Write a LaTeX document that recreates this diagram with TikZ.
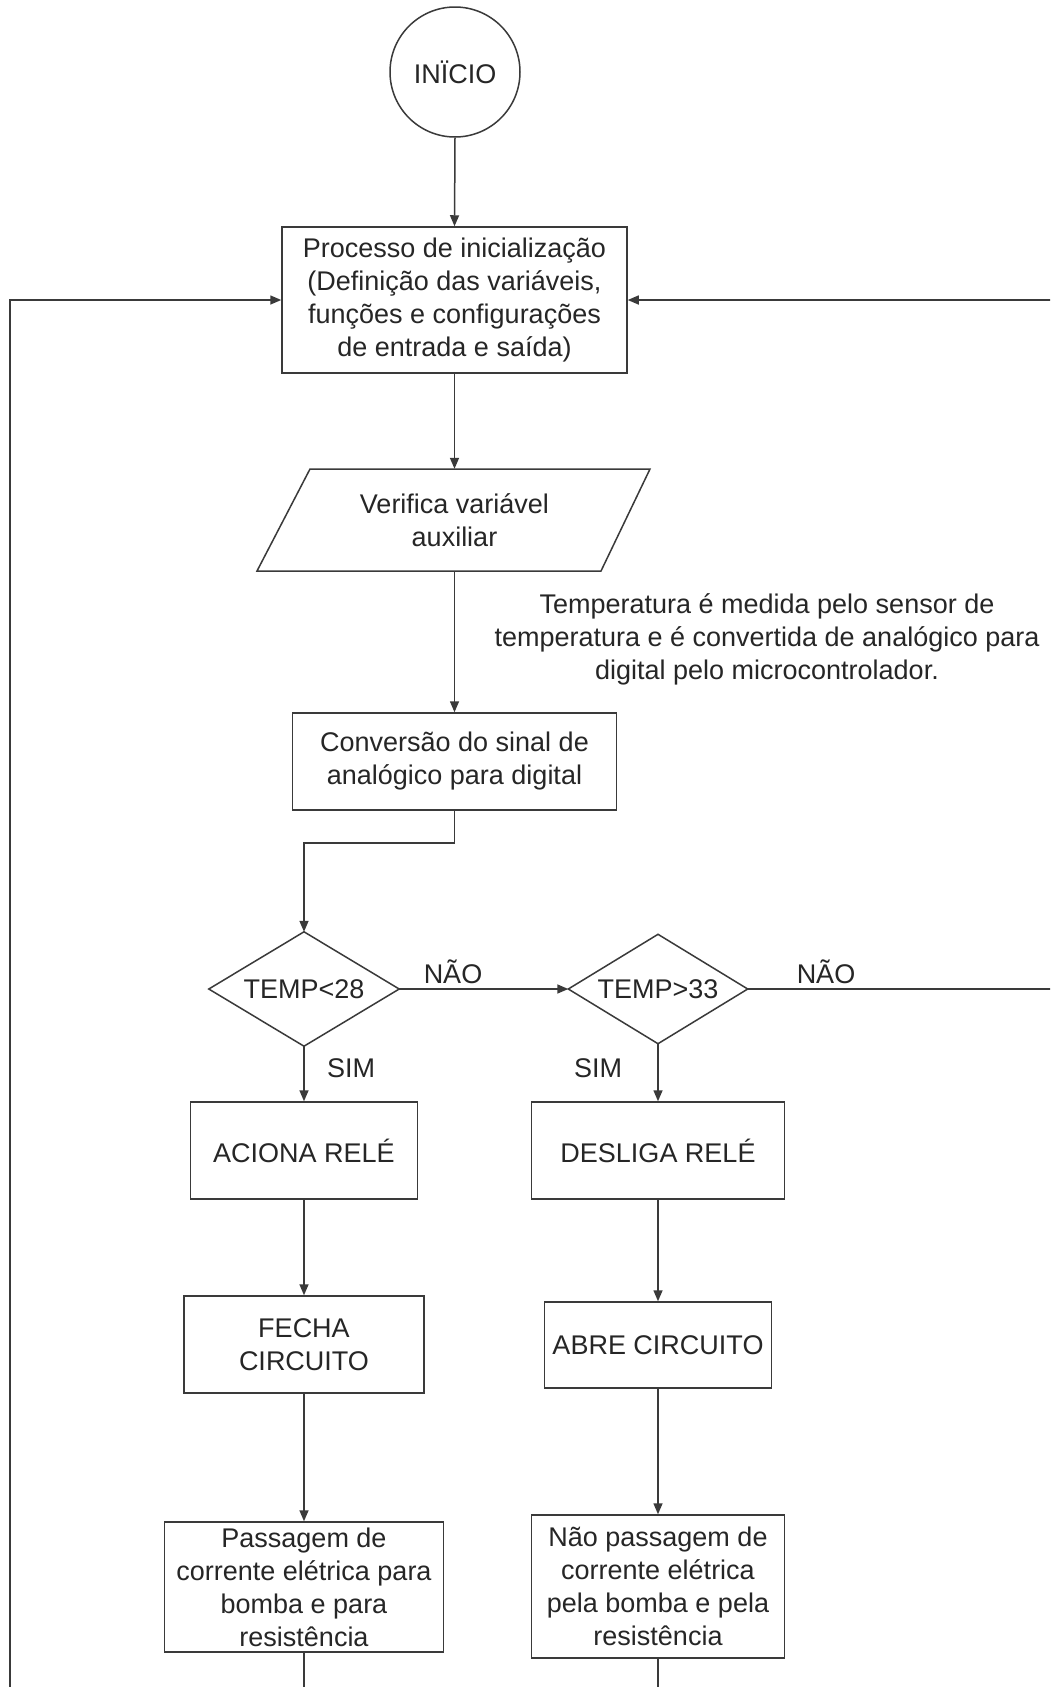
\documentclass[tikz,border=0pt]{standalone}
\usepackage{fontspec}
\setmainfont{Liberation Sans}
\usetikzlibrary{arrows.meta}
\definecolor{ln}{HTML}{3A3A3A}
\definecolor{txt}{HTML}{262626}
\begin{document}
\begin{tikzpicture}[x=1pt,y=-1pt,
  every node/.style={font=\fontsize{27}{33}\selectfont, text=txt, inner sep=0pt, align=center},
  box/.style={draw=ln, line width=1.5pt, rectangle},
  plain/.style={draw=ln, line width=1.5pt},
  conn/.style={draw=ln, line width=1.5pt, -{Triangle[length=11pt,width=9pt]}}]
\useasboundingbox (0,0) rectangle (1050,1687);
\clip (0,0) rectangle (1050,1687);
\fill[white] (0,0) rectangle (1050,1687);

% nodes
\node[circle, draw=ln, line width=1.5pt, minimum size=130pt] (inicio) at (455,72) {INÏCIO};
\node[box, minimum width=345pt, minimum height=146pt] (proc) at (454.5,300)
  {Processo de inicialização\\(Definição das variáveis,\\funções e configurações\\de entrada e saída)};
\node[minimum width=290pt, minimum height=102pt] (verif) at (454.5,520) {Verifica variável\\auxiliar};
\draw[plain] (310,469) -- (650,469) -- (601,571) -- (257,571) -- cycle;
\node (note) at (767,639) {Temperatura é medida pelo sensor de\\temperatura e é convertida de analógico para\\digital pelo microcontrolador.};
\node[box, minimum width=324pt, minimum height=97pt] (conv) at (454.5,761.5) {Conversão do sinal de\\analógico para digital};

\node[minimum width=190pt, minimum height=114pt] (d1) at (304,989) {TEMP<28};
\draw[plain] (d1.north) -- (d1.east) -- (d1.south) -- (d1.west) -- cycle;
\node[minimum width=179pt, minimum height=109pt] (d2) at (658,989) {TEMP>33};
\draw[plain] (d2.north) -- (d2.east) -- (d2.south) -- (d2.west) -- cycle;

\node[box, minimum width=227pt, minimum height=97pt] (acion) at (304,1150.5) {ACIONA RELÉ};
\node[box, minimum width=253pt, minimum height=97pt] (desl) at (658,1150.5) {DESLIGA RELÉ};
\node[box, minimum width=240pt, minimum height=97pt] (fecha) at (304,1344.5) {FECHA\\CIRCUITO};
\node[box, minimum width=227pt, minimum height=86pt] (abre) at (658,1345) {ABRE CIRCUITO};
\node[box, minimum width=279pt, minimum height=130pt] (pass) at (304,1587) {Passagem de\\corrente elétrica para\\bomba e para\\resistência};
\node[box, minimum width=253pt, minimum height=143pt] (naop) at (658,1586.5) {Não passagem de\\corrente elétrica\\pela bomba e pela\\resistência};

\node (nao1) at (453,972) {NÃO};
\node (nao2) at (826,972) {NÃO};
\node (sim1) at (351,1068) {SIM};
\node (sim2) at (598,1068) {SIM};

% connectors
\draw[conn] (inicio.south) -- (proc.north);
\draw[conn] (proc.south) -- (verif.north);
\draw[conn] (verif.south) -- (conv.north);
\draw[conn] (conv.south) -- ++(0,32) -| (d1.north);
\draw[conn] (d1.east) -- (d2.west);
\draw[conn] (d2.east) -- (1054,989) |- (proc.east);
\draw[conn] (d1.south) -- (acion.north);
\draw[conn] (d2.south) -- (desl.north);
\draw[conn] (acion.south) -- (fecha.north);
\draw[conn] (desl.south) -- (abre.north);
\draw[conn] (fecha.south) -- (pass.north);
\draw[conn] (abre.south) -- (naop.north);
\draw[conn] (pass.south) -- ++(0,60) -| (10,300) -- (proc.west);
\draw[plain] (naop.south) -- ++(0,60);
\end{tikzpicture}
\end{document}
